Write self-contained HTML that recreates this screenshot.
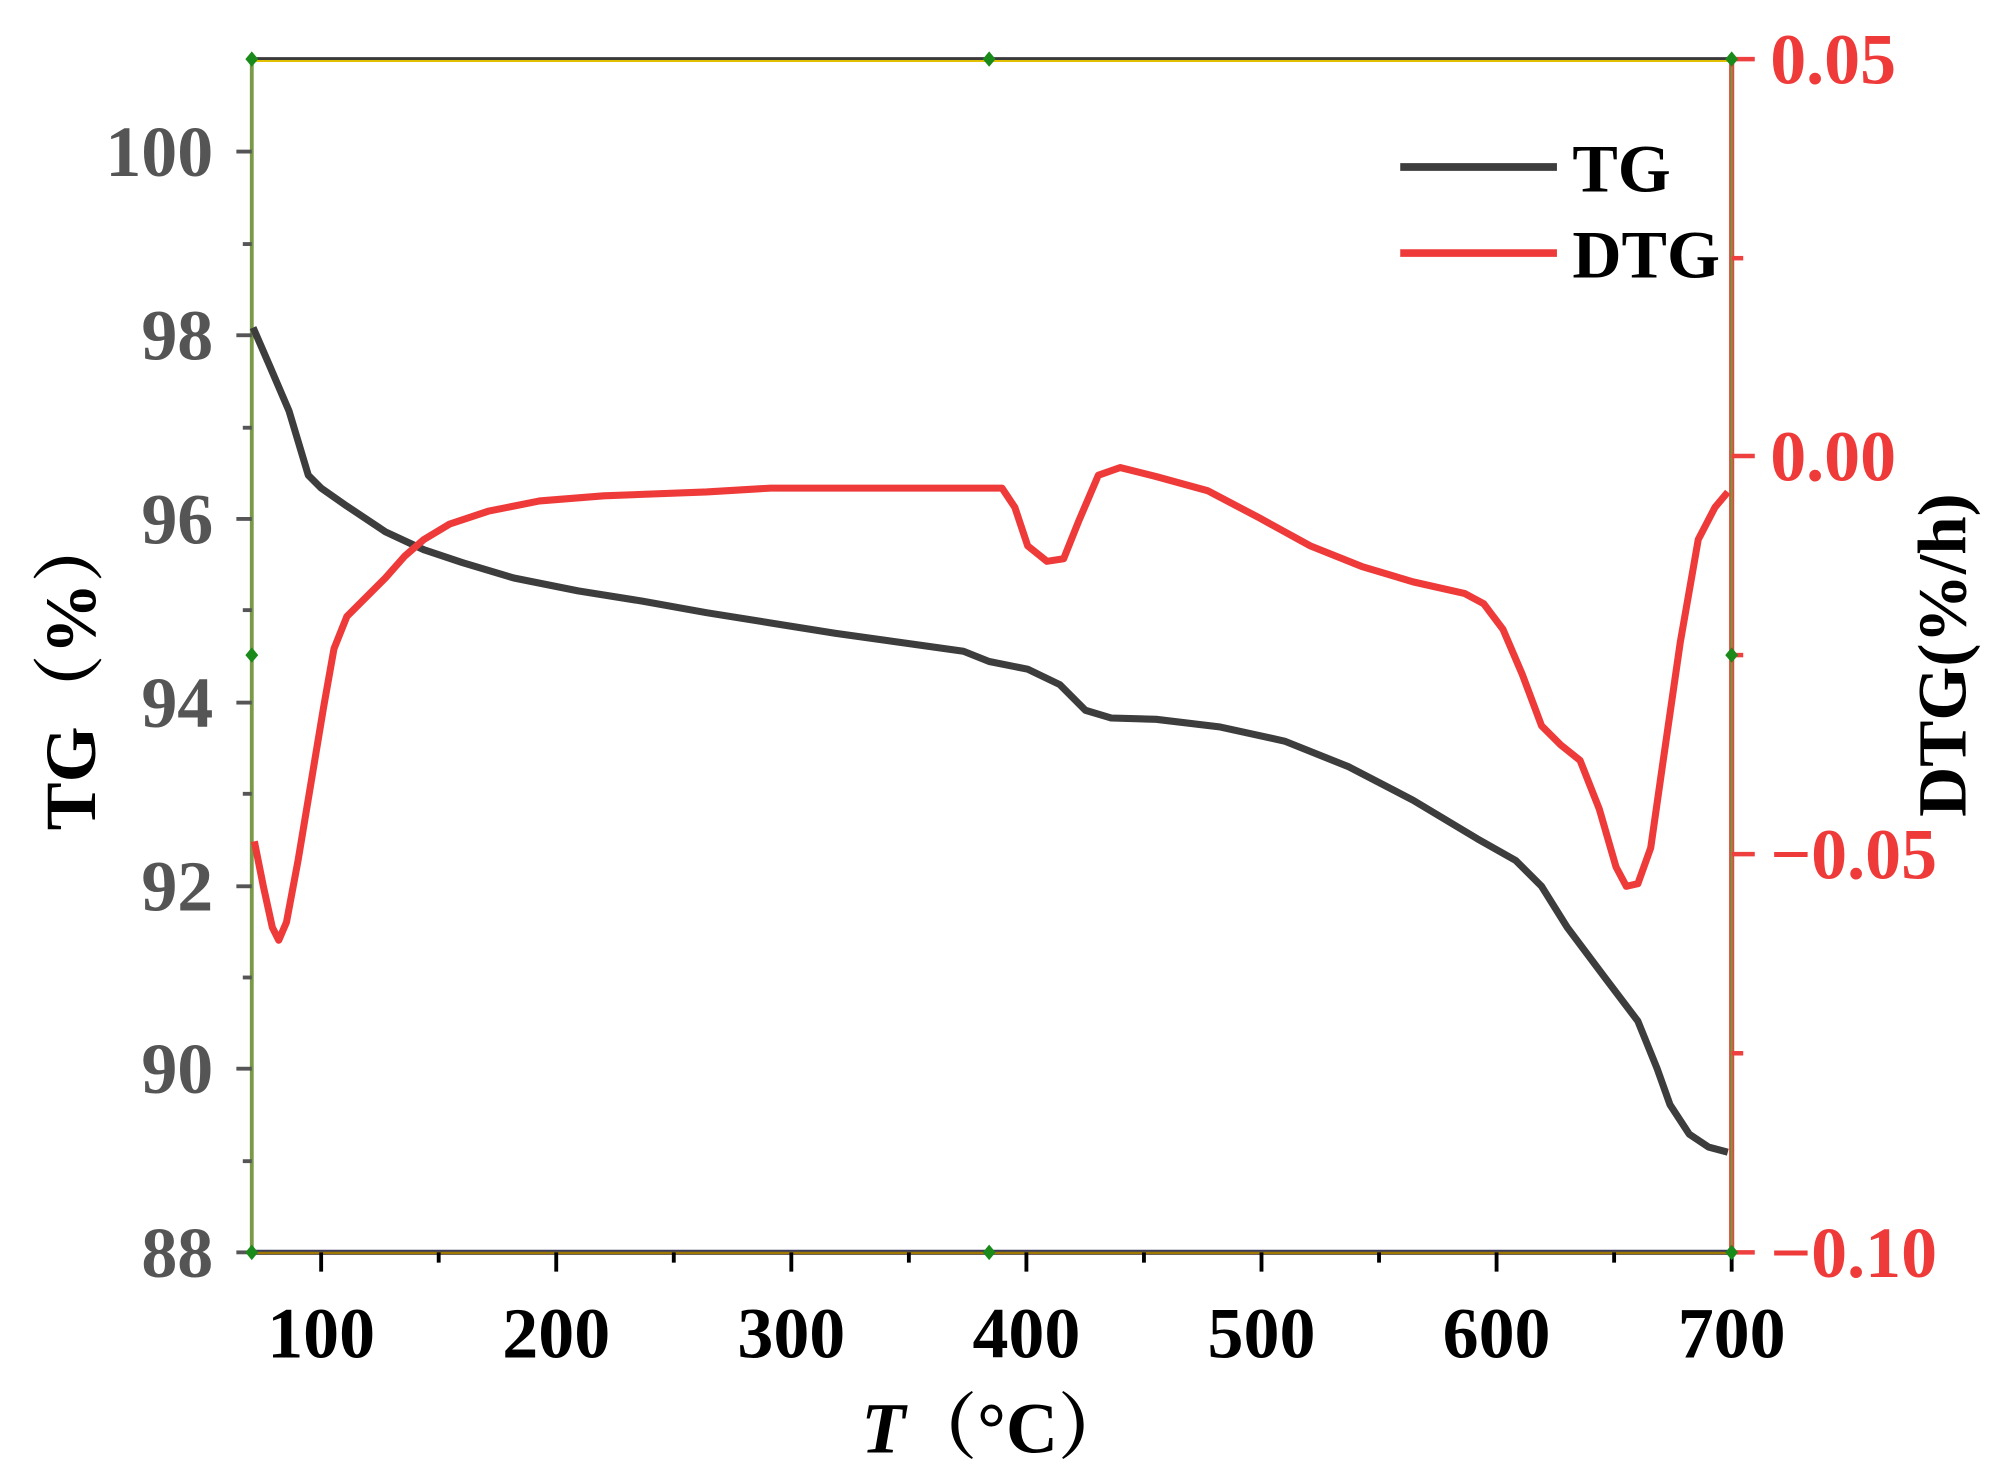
<!DOCTYPE html>
<html><head><meta charset="utf-8"><style>
html,body{margin:0;padding:0;background:#fff;}
svg{display:block;}
text{font-family:"Liberation Serif","Noto Serif CJK SC",serif;font-weight:bold;}
</style></head><body>
<svg width="2004" height="1481" viewBox="0 0 1560 1153" preserveAspectRatio="none" xmlns="http://www.w3.org/2000/svg">
<rect width="1560" height="1153" fill="#fff"/>
<!-- frame -->
<line x1="196" y1="46" x2="1348" y2="46" stroke="#3a3a3a" stroke-width="3"/>
<line x1="196" y1="47.5" x2="1348" y2="47.5" stroke="#e0c000" stroke-width="1.5"/>
<line x1="196" y1="975" x2="1348" y2="975" stroke="#3a3a5a" stroke-width="4"/>
<line x1="196" y1="975.5" x2="1348" y2="975.5" stroke="#a07800" stroke-width="2"/>
<line x1="196" y1="46" x2="196" y2="975" stroke="#7a9a4a" stroke-width="3"/>
<line x1="1348" y1="46" x2="1348" y2="975" stroke="#ef4040" stroke-width="4"/>
<line x1="1348" y1="46" x2="1348" y2="975" stroke="#5aaa3a" stroke-width="1.5"/>
<!-- x ticks -->
<g stroke="#000" stroke-width="3">
<line x1="250" y1="975" x2="250" y2="990"/><line x1="433" y1="975" x2="433" y2="990"/><line x1="616" y1="975" x2="616" y2="990"/><line x1="799" y1="975" x2="799" y2="990"/><line x1="982" y1="975" x2="982" y2="990"/><line x1="1165" y1="975" x2="1165" y2="990"/><line x1="1348" y1="975" x2="1348" y2="990"/>
<line x1="341.5" y1="975" x2="341.5" y2="983"/><line x1="524.5" y1="975" x2="524.5" y2="983"/><line x1="707.5" y1="975" x2="707.5" y2="983"/><line x1="890.5" y1="975" x2="890.5" y2="983"/><line x1="1073.5" y1="975" x2="1073.5" y2="983"/><line x1="1256.5" y1="975" x2="1256.5" y2="983"/>
</g>
<!-- left ticks -->
<g stroke="#555" stroke-width="3">
<line x1="184" y1="975" x2="196" y2="975"/><line x1="184" y1="832" x2="196" y2="832"/><line x1="184" y1="690" x2="196" y2="690"/><line x1="184" y1="547" x2="196" y2="547"/><line x1="184" y1="404" x2="196" y2="404"/><line x1="184" y1="261" x2="196" y2="261"/><line x1="184" y1="118" x2="196" y2="118"/>
<line x1="189" y1="904" x2="196" y2="904"/><line x1="189" y1="761" x2="196" y2="761"/><line x1="189" y1="618" x2="196" y2="618"/><line x1="189" y1="475" x2="196" y2="475"/><line x1="189" y1="333" x2="196" y2="333"/><line x1="189" y1="190" x2="196" y2="190"/>
</g>
<!-- right ticks -->
<g stroke="#ef4040" stroke-width="3.5">
<line x1="1348" y1="46" x2="1366" y2="46"/><line x1="1348" y1="355" x2="1366" y2="355"/><line x1="1348" y1="665" x2="1366" y2="665"/><line x1="1348" y1="975" x2="1366" y2="975"/>
<line x1="1348" y1="201" x2="1357" y2="201"/><line x1="1348" y1="510" x2="1357" y2="510"/><line x1="1348" y1="820" x2="1357" y2="820"/>
</g>
<!-- markers -->
<g fill="#1a8a1a">
<path d="M196 40l5 6-5 6-5-6z"/><path d="M770 40l5 6-5 6-5-6z"/><path d="M1348 40l5 6-5 6-5-6z"/>
<path d="M196 969l5 6-5 6-5-6z"/><path d="M770 969l5 6-5 6-5-6z"/><path d="M1348 969l5 6-5 6-5-6z"/>
<path d="M196 504l5 6-5 6-5-6z"/><path d="M1348 504l5 6-5 6-5-6z"/>
</g>
<!-- curves -->
<polyline fill="none" stroke="#3d3d3d" stroke-width="5.5" stroke-linejoin="round" points="197,255 210,285 225,320 240,370 250,380 270,394 300,414 330,428 360,438 400,450 450,460 500,468 550,477 600,485 650,493 700,500 750,507 770,515 800,521 825,533 845,553 865,559 900,560 950,566 1000,577 1050,597 1100,623 1150,653 1180,670 1200,690 1220,722 1250,762 1275,795 1290,832 1300,860 1315,883 1330,893 1345,897"/>
<polyline fill="none" stroke="#ef3a3a" stroke-width="5.5" stroke-linejoin="round" points="198,655 205,690 212,722 217,732 223,718 232,670 242,610 252,550 260,505 270,480 285,465 300,450 315,433 330,420 350,408 380,398 420,390 470,386 550,383 600,380 700,380 780,380 790,395 800,425 815,437 828,435 840,405 855,370 872,364 900,371 940,382 980,403 1020,425 1060,441 1100,453 1140,462 1155,470 1170,490 1185,525 1200,565 1215,580 1230,592 1245,630 1258,675 1266,690 1275,688 1285,660 1295,590 1308,500 1322,420 1335,395 1345,383"/>
<!-- legend -->
<line x1="1090" y1="130" x2="1212" y2="130" stroke="#3d3d3d" stroke-width="6"/>
<line x1="1090" y1="197" x2="1212" y2="197" stroke="#ef3a3a" stroke-width="6"/>
<text x="1224" y="149" font-size="53" fill="#000">TG</text>
<text x="1224" y="216" font-size="53" fill="#000">DTG</text>
<!-- left labels -->
<g font-size="56" fill="#555" text-anchor="end">
<text x="166" y="994">88</text><text x="166" y="851">90</text><text x="166" y="709">92</text><text x="166" y="566">94</text><text x="166" y="423">96</text><text x="166" y="280">98</text><text x="166" y="137">100</text>
</g>
<!-- bottom labels -->
<g font-size="56" fill="#000" text-anchor="middle">
<text x="250" y="1057">100</text><text x="433" y="1057">200</text><text x="616" y="1057">300</text><text x="799" y="1057">400</text><text x="982" y="1057">500</text><text x="1165" y="1057">600</text><text x="1348" y="1057">700</text>
</g>
<!-- right labels -->
<g font-size="56" fill="#ef3a3a">
<text x="1378" y="65">0.05</text><text x="1378" y="374">0.00</text><text x="1378" y="684">−0.05</text><text x="1378" y="994">−0.10</text>
</g>
<!-- titles -->
<text x="775" y="1131" font-size="56" fill="#000" text-anchor="middle"><tspan font-style="italic">T</tspan>（°C）</text>
<text transform="translate(74,522) rotate(-90)" font-size="56" fill="#000" text-anchor="middle">TG（%）</text>
<text transform="translate(1530,510) rotate(-90)" font-size="54" fill="#000" text-anchor="middle">DTG(%/h)</text>
</svg>
</body></html>
